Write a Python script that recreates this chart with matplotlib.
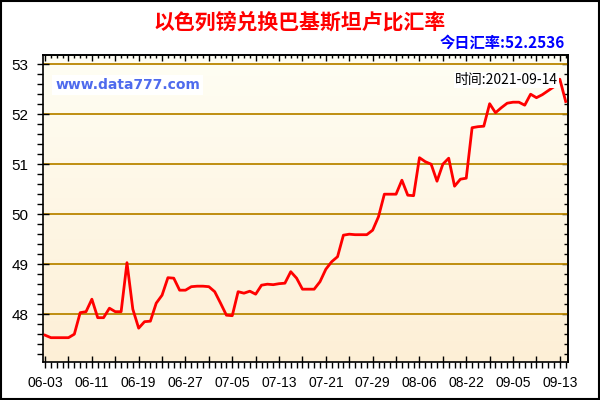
import numpy as np
import matplotlib.pyplot as plt
from matplotlib.colors import LinearSegmentedColormap
from matplotlib.patches import Rectangle
from matplotlib.ticker import MultipleLocator, FixedLocator

plt.rcParams['font.family'] = ['Liberation Sans', 'Noto Sans CJK SC']

# 以色列镑兑巴基斯坦卢比, 每个交易日一个点
rates = [47.58, 47.53, 47.53, 47.53, 47.53, 47.60, 48.03, 48.05, 48.30, 47.93,
         47.93, 48.12, 48.05, 48.05, 49.03, 48.10, 47.72, 47.85, 47.86, 48.22,
         48.38, 48.73, 48.72, 48.48, 48.48, 48.55, 48.56, 48.56, 48.55, 48.45,
         48.22, 47.98, 47.97, 48.45, 48.42, 48.46, 48.40, 48.58, 48.60, 48.59,
         48.61, 48.62, 48.85, 48.72, 48.50, 48.50, 48.50, 48.65, 48.90, 49.05,
         49.15, 49.58, 49.60, 49.59, 49.59, 49.59, 49.68, 49.95, 50.40, 50.40,
         50.40, 50.68, 50.38, 50.37, 51.13, 51.05, 51.00, 50.66, 51.00, 51.12,
         50.56, 50.70, 50.72, 51.73, 51.75, 51.76, 52.21, 52.03, 52.13, 52.22,
         52.24, 52.24, 52.18, 52.40, 52.33, 52.39, 52.47, 52.55, 52.70, 52.2536]
tick_labels = ['06-03', '06-11', '06-19', '06-27', '07-05', '07-13',
               '07-21', '07-29', '08-06', '08-22', '09-05', '09-13']
y_ticks = [48, 49, 50, 51, 52, 53]
today_rate = '52.2536'
last_date = '2021-09-14'

x = np.arange(len(rates))
major_x = list(range(0, len(rates), 4))

fig = plt.figure(figsize=(6, 4), dpi=100)
ax = fig.add_axes([0.0722, 0.0958, 0.8750, 0.7662])

ax.set_xlim(-0.3, len(rates) - 0.55)
ax.set_ylim(47.05, 53.18)

# 渐变背景
cmap = LinearSegmentedColormap.from_list('bg', ['#FDEFD6', '#FFFEF4'])
ax.imshow(np.linspace(0, 1, 256).reshape(-1, 1), extent=[0, 1, 0, 1],
          transform=ax.transAxes, aspect='auto', cmap=cmap, origin='lower', zorder=0)

for v in y_ticks:
    ax.axhline(v, color='#BA8600', lw=1.3, zorder=1)

ax.plot(x, rates, color='#FF0000', lw=2.0, zorder=3)

# 左/下 刻度
ax.set_yticks(y_ticks)
ax.set_yticklabels([str(v) for v in y_ticks], fontsize=11)
ax.yaxis.set_minor_locator(MultipleLocator(0.2))
ax.xaxis.set_major_locator(FixedLocator(major_x))
ax.xaxis.set_minor_locator(MultipleLocator(1))
ax.set_xticklabels([tick_labels[i // 2] if i % 2 == 0 else ''
                    for i in range(len(major_x))], fontsize=10)

ax.tick_params(axis='y', which='major', direction='inout', length=9, width=1, pad=6)
ax.tick_params(axis='y', which='minor', direction='out', length=4, width=1)
ax.tick_params(axis='x', which='major', direction='inout', length=8, width=1, pad=6)
ax.tick_params(axis='x', which='minor', direction='out', length=4, width=1)

# 上/右 刻度朝内
top = ax.secondary_xaxis('top')
top.xaxis.set_major_locator(FixedLocator(major_x))
top.xaxis.set_minor_locator(MultipleLocator(1))
top.tick_params(which='both', direction='in', labeltop=False, width=1)
top.tick_params(which='major', length=4)
top.tick_params(which='minor', length=2.5)

right = ax.secondary_yaxis('right')
right.set_yticks(y_ticks)
right.yaxis.set_minor_locator(MultipleLocator(0.2))
right.tick_params(which='both', direction='in', labelright=False, width=1)
right.tick_params(which='major', length=4)
right.tick_params(which='minor', length=3)

for a in (ax, top, right):
    for sp in a.spines.values():
        sp.set_color('black')
        sp.set_linewidth(1.2)

# 文字
fig.text(0.5, 0.945, '以色列镑兑换巴基斯坦卢比汇率', ha='center', va='center',
         fontsize=15, fontweight='bold', color='#FF0000', family='Noto Sans CJK SC')
fig.text(0.942, 0.893, '今日汇率:' + today_rate, ha='right', va='center',
         fontsize=11, fontweight='bold', color='#0000FF', family='Noto Sans CJK SC')
fig.text(0.092, 0.787, 'www.data777.com', ha='left', va='center', fontsize=10,
         fontweight='bold', color='#4F6BED', family='DejaVu Sans',
         bbox=dict(facecolor='white', edgecolor='none', pad=2))
fig.text(0.93, 0.8, '时间:' + last_date, ha='right', va='center', fontsize=10,
         color='black', family=['Noto Sans CJK SC', 'DejaVu Sans'],
         bbox=dict(facecolor='white', edgecolor='none', pad=1))

fig.patches.append(Rectangle((0.001, 0.002), 0.997, 0.996, transform=fig.transFigure,
                             fill=False, edgecolor='black', lw=1.5))

fig.savefig('out.png', dpi=100)
